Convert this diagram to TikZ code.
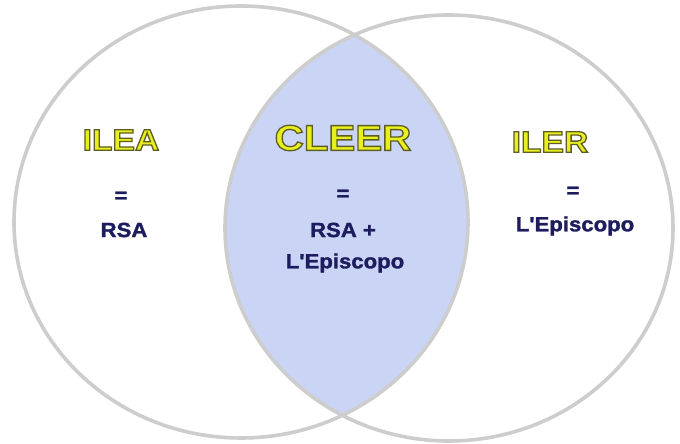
\documentclass[tikz,border=0pt]{standalone}
\usepackage{fontspec}
\setmainfont{Liberation Sans}
\newfontfamily\titlefont{Liberation Sans Bold}[FakeStretch=1.12]
\newfontfamily\labelfont{Liberation Sans Bold}[FakeStretch=1.08, FakeBold=1.4]
\definecolor{ringgray}{HTML}{CDCDCD}
\definecolor{lensblue}{HTML}{CAD5F5}
\definecolor{titleyellow}{HTML}{E8EF1C}
\definecolor{labelnavy}{HTML}{1C1C5E}
% yellow letters with a dark olive rim
\newcommand{\rimtext}[1]{\special{pdf:literal direct 2 Tr 1.3 w 0.36 0.36 0.14 RG}#1\special{pdf:literal direct 0 Tr}}
\begin{document}
\begin{tikzpicture}[x=1pt,y=1pt,
  ring/.style={draw=ringgray, line width=3.6pt},
  title/.style={font=\titlefont\fontsize{30}{30}\selectfont, text=titleyellow, inner sep=0pt},
  bigtitle/.style={title, font=\titlefont\fontsize{36}{36}\selectfont},
  label/.style={font=\labelfont\fontsize{20.5}{20.5}\selectfont, text=labelnavy, inner sep=0pt}]

\useasboundingbox (0,0) rectangle (680,444);
\fill[white] (0,0) rectangle (680,444);

% intersection of the two sets
\begin{scope}
\clip (241,222) ellipse [x radius=227pt, y radius=216pt];
\fill[lensblue] (449,216) ellipse [x radius=224pt, y radius=213pt];
\end{scope}

\draw[ring] (241,222) ellipse [x radius=227pt, y radius=216pt];
\draw[ring] (449,216) ellipse [x radius=224pt, y radius=213pt];

\node[title] (ilea) at (121,304) {\rimtext{ILEA}};
\node[bigtitle] (cleer) at (343,306) {\rimtext{CLEER}};
\node[title] (iler) at (550,302) {\rimtext{ILER}};

\node[label] (eqleft) at (121,247) {=};
\node[label] (rsa) at (124,214) {RSA};

\node[label] (eqmid) at (343,249) {=};
\node[label] (rsaplus) at (343,214) {RSA +};
\node[label] (episcmid) at (345,181) {L'Episcopo};

\node[label] (eqright) at (573,252) {=};
\node[label] (episcright) at (575,218) {L'Episcopo};

\end{tikzpicture}
\end{document}
